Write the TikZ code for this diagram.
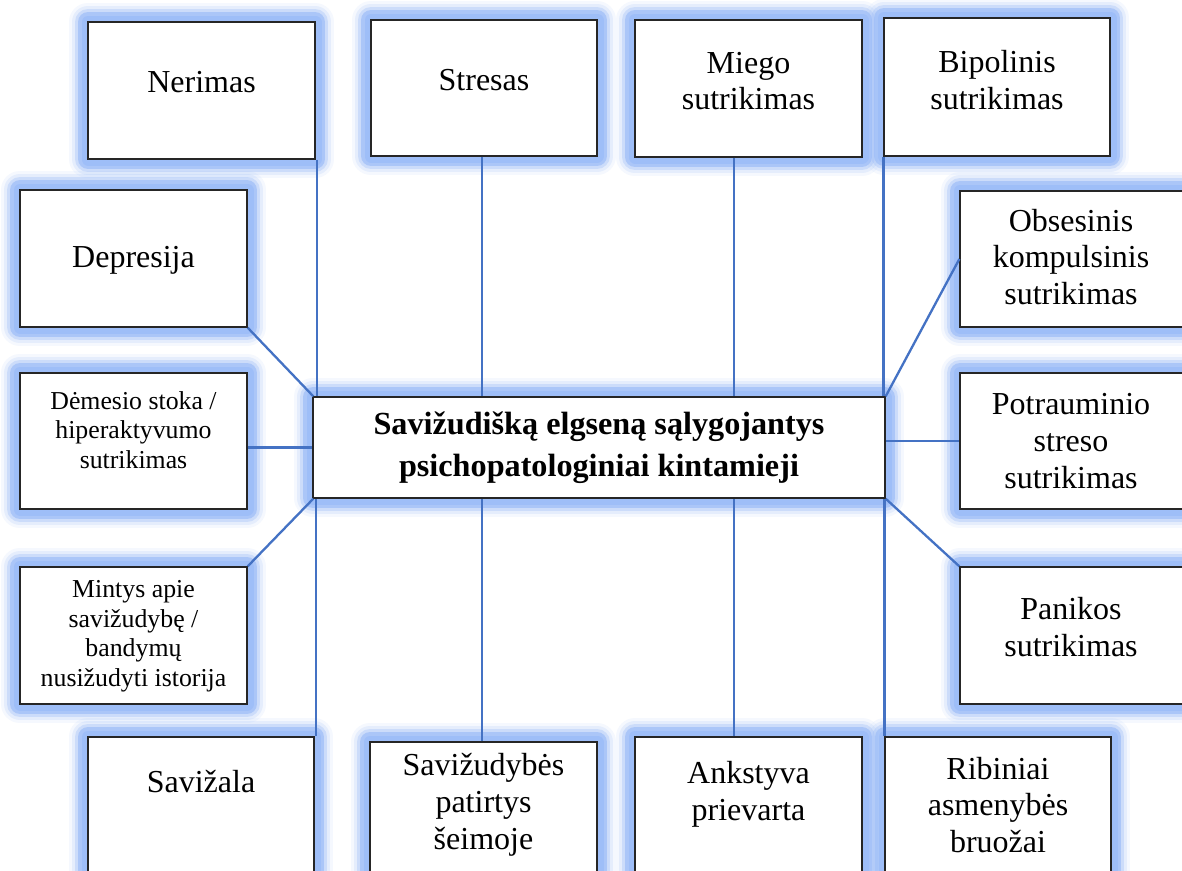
\documentclass[tikz,border=0pt]{standalone}
\usepackage{fontspec}
\setmainfont{Liberation Serif}
\definecolor{glowc}{RGB}{158,190,248}
\definecolor{linec}{RGB}{68,114,196}
\tikzset{
  glow/.style={
    preaction={draw=glowc, line width=38pt, opacity=0.10, line join=round},
    preaction={draw=glowc, line width=32pt, opacity=0.18, line join=round},
    preaction={draw=glowc, line width=26pt, opacity=0.35, line join=round},
    preaction={draw=glowc, line width=20pt, opacity=0.7, line join=round},
    preaction={draw=glowc, line width=13pt, opacity=1, line join=round}},
  box/.style={draw=black!85, line width=1.3pt, fill=white, inner sep=0pt, glow},
  std/.style={box, minimum width=227pt, minimum height=137pt},
  txt/.style={font=\fontsize{32}{36.8}\selectfont, align=center, inner sep=0pt},
  small/.style={font=\fontsize{25.8}{29.5}\selectfont, align=center, inner sep=0pt},
  bold/.style={font=\fontsize{32.2}{42}\selectfont\bfseries, align=center, inner sep=0pt},
  conn/.style={draw=linec, line width=2.3pt}
}
\begin{document}
\begin{tikzpicture}[x=1pt,y=-1pt]
\useasboundingbox (0,0) rectangle (1182,870);
\fill[white] (0,0) rectangle (1182,870);
% boxes
\node[std] (ner) at (201.5,90.5) {};
\node[std, minimum width=226pt, minimum height=136pt] (str) at (484,88) {};
\node[std] (mie) at (748.5,88.5) {};
\node[std, minimum width=226pt, minimum height=138pt] (bip) at (997,87) {};
\node[std] (dep) at (133.5,258.5) {};
\node[std, minimum height=136pt] (obs) at (1073.5,259) {};
\node[std, minimum height=136pt] (dem) at (133.5,441) {};
\node[box, minimum width=572pt, minimum height=101pt] (cen) at (599,447.5) {};
\node[std, minimum height=136pt] (pot) at (1073.5,441) {};
\node[std] (min) at (133.5,635.5) {};
\node[std] (pan) at (1073.5,635.5) {};
\node[std, minimum width=226pt] (sav) at (201,805.5) {};
\node[std] (sei) at (483.5,810.5) {};
\node[std] (ank) at (748.5,805.5) {};
\node[std, minimum width=226pt] (rib) at (998,805.5) {};
% texts
\node[txt] (ner-t) at (201.5,82) {Nerimas};
\node[txt] (str-t) at (484,80) {Stresas};
\node[txt] (mie-t) at (748.5,81) {Miego\\sutrikimas};
\node[txt] (bip-t) at (997,80) {Bipolinis\\sutrikimas};
\node[txt] (dep-t) at (133.5,260) {Depresija};
\node[txt] (obs-t) at (1071,257) {Obsesinis\\kompulsinis\\sutrikimas};
\node[small] (dem-t) at (133.5,430) {Dėmesio stoka /\\hiperaktyvumo\\sutrikimas};
\node[bold] (cen-t) at (599,448) {Savižudišką elgseną sąlygojantys\\psichopatologiniai kintamieji};
\node[txt] (pot-t) at (1071,441) {Potrauminio\\streso\\sutrikimas};
\node[small] (min-t) at (133.5,636) {Mintys apie\\savižudybę /\\bandymų\\nusižudyti istorija};
\node[txt] (pan-t) at (1071,627) {Panikos\\sutrikimas};
\node[txt] (sav-t) at (201,782) {Savižala};
\node[txt] (sei-t) at (483.5,805) {Savižudybės\\patirtys\\šeimoje};
\node[txt] (ank-t) at (748.5,794) {Ankstyva\\prievarta};
\node[txt] (rib-t) at (998,805) {Ribiniai\\asmenybės\\bruožai};
% connectors
\draw[conn] ([xshift=1pt]ner.south east) -- ([xshift=1pt]ner.south east |- cen.north);
\draw[conn] (dep.south east) -- ([xshift=1pt]cen.north west);
\draw[conn] (dem.east |- cen.west) -- (cen.west);
\draw[conn] (min.north east) -- ([xshift=1pt]cen.south west);
\draw[conn] ([xshift=1pt]sav.north east) -- ([xshift=1pt]sav.north east |- cen.south);
\draw[conn] ([xshift=-2pt]str.south) -- ([xshift=-2pt]str.south |- cen.north);
\draw[conn] ([xshift=-14.5pt]mie.south) -- ([xshift=-14.5pt]mie.south |- cen.north);
\draw[conn] (bip.south west) -- (bip.south west |- cen.north);
\draw[conn] (cen.north east) -- (obs.west);
\draw[conn] (pot.west -| cen.east) -- (pot.west);
\draw[conn] (cen.south east) -- (pan.north west);
\draw[conn] ([xshift=-1.5pt]sei.north) -- ([xshift=-1.5pt]sei.north |- cen.south);
\draw[conn] ([xshift=-14.5pt]ank.north) -- ([xshift=-14.5pt]ank.north |- cen.south);
\draw[conn] (rib.north west) -- (rib.north west |- cen.south);
\end{tikzpicture}
\end{document}
